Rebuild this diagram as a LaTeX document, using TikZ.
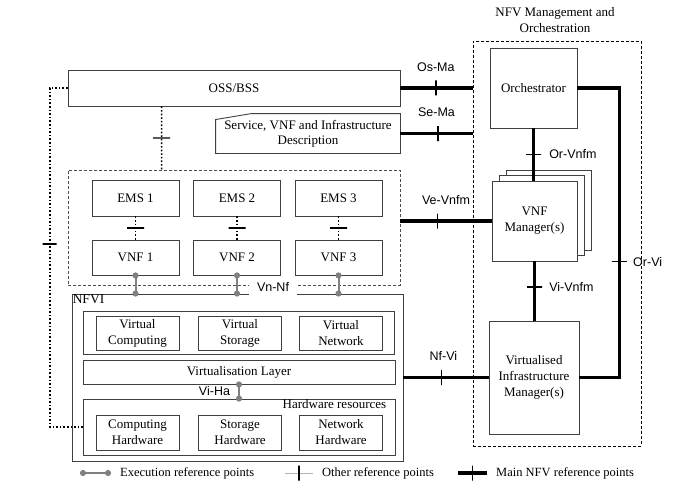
\documentclass[tikz,border=0pt]{standalone}
\usepackage{fontspec}
\setmainfont{Liberation Serif}
\newfontfamily\refsans{Liberation Sans}
\usetikzlibrary{arrows.meta,calc}

\tikzset{
  box/.style={draw=black!75, line width=0.9pt, align=center, inner sep=1pt, font=\fontsize{13}{16}\selectfont},
  group/.style={draw=black!75, line width=0.9pt, inner sep=0pt},
  dashgroup/.style={draw=black!70, line width=0.8pt, dash pattern=on 3pt off 2pt, inner sep=0pt},
  mainref/.style={line width=3.5pt},
  otherref/.style={line width=1.6pt, dotted},
  execref/.style={draw=black!50, line width=2pt, arrows={Circle[length=6pt]-Circle[length=6pt]}, shorten <=-3pt, shorten >=-3pt},
  tick/.style={sloped, draw=black, solid, line width=1.4pt, minimum width=0pt, minimum height=15pt, inner sep=0pt, outer sep=0pt},
  reflabel/.style={font=\refsans\fontsize{12.5}{14}\selectfont, inner sep=0pt},
  legendtext/.style={anchor=west, inner sep=0pt, font=\fontsize{12.5}{14}\selectfont},
}

\begin{document}
\begin{tikzpicture}[x=1pt, y=-1pt]
  \useasboundingbox (0,0) rectangle (683,495);
  % OSS/BSS and description:
  \node[box, minimum width=332pt, minimum height=36pt] (oss) at (234,88) {OSS/BSS};
  \node[box, draw=none, minimum width=184pt, minimum height=39pt, font=\fontsize{13}{15}\selectfont] (desc) at (308,133.5) {Service, VNF and Infrastructure\\Description};
  \draw[group] (desc.south west) -- ([yshift=-6pt]desc.north west) -- ([xshift=36pt]desc.north west) -- (desc.north east) -- (desc.south east) -- cycle;

  % VNF domain:
  \node[dashgroup, minimum width=332pt, minimum height=115pt] (vnfdom) at (234,227.5) {};
  \foreach \i/\x in {1/135.5, 2/237, 3/338.5} {
    \node[box, minimum width=87pt, minimum height=36pt] (ems\i) at (\x,198) {EMS \i};
    \node[box, minimum width=87pt, minimum height=35pt] (vnf\i) at (\x,257.5) {VNF \i};
    \draw[otherref] (ems\i.south) -- (vnf\i.north) node[midway, tick, minimum height=17pt] {};
  }

  % NFVI:
  \node[group, minimum width=331pt, minimum height=167pt] (nfvi) at (237.5,377.5) {};
  \node[anchor=north west, inner sep=1pt, font=\fontsize{13.5}{16}\selectfont] (nfvilabel) at (nfvi.north west) {NFVI};
  \node[group, minimum width=311pt, minimum height=43pt] (virt) at (238.5,332.5) {};
  \node[box, minimum width=312pt, minimum height=24pt] (vlayer) at (239,372) {Virtualisation Layer};
  \node[group, minimum width=312pt, minimum height=56pt] (hw) at (239,427) {};
  \node[anchor=north east, inner sep=1pt, font=\fontsize{13}{16}\selectfont] (hwlabel) at ([xshift=-8pt]hw.north east) {Hardware resources};
  \foreach \i/\x/\a in {1/137.5/Computing, 2/240/Storage, 3/341/Network} {
    \node[box, minimum width=83pt, minimum height=34pt] (virt\i) at (\x,333) {Virtual\\\a};
    \node[box, minimum width=83pt, minimum height=35pt] (hw\i) at (\x,432.5) {\a\\Hardware};
  }

  % Execution reference points:
  \foreach \i in {1,2,3} \draw[execref] (vnf\i.south) -- (vnf\i.south |- nfvi.north);
  \node[reflabel, fill=white, inner xsep=8pt, inner ysep=3pt] (vnnf) at (273,287) {Vn-Nf};
  \draw[execref] (vlayer.south) -- (hw.north) node[midway, left=8pt, reflabel] {Vi-Ha};

  % NFV management and orchestration:
  \node[dashgroup, draw=black, minimum width=168pt, minimum height=405pt] (mano) at (557,243.5) {};
  \node[align=center, font=\fontsize{13}{16}\selectfont] (manolabel) at (555,20) {NFV Management and\\Orchestration};
  \node[box, minimum width=87pt, minimum height=80pt] (orch) at (533.5,88) {Orchestrator};
  \foreach \k in {2,1} \node[box, fill=white, minimum width=85pt, minimum height=80pt] (vnfmback\k) at ($(534.5,221)+(7*\k,-5.5*\k)$) {};
  \node[box, fill=white, minimum width=85pt, minimum height=80pt] (vnfm) at (534.5,221) {VNF\\Manager(s)};
  \node[box, minimum width=90pt, minimum height=113pt] (vim) at (534,377.5) {Virtualised\\Infrastructure\\Manager(s)};

  % Main NFV reference points:
  \draw[mainref] (oss.east) -- (oss.east -| mano.west) node[pos=0.49, tick] {} node[pos=0.49, above=15pt, reflabel] {Os-Ma};
  \draw[mainref] (desc.east) -- (desc.east -| mano.west) node[pos=0.52, tick] {} node[pos=0.5, above=15pt, reflabel] {Se-Ma};
  \draw[mainref] (vnfm.west -| vnfdom.east) -- (vnfm.west) node[pos=0.41, tick] {} node[pos=0.5, above=15pt, reflabel] {Ve-Vnfm};
  \draw[mainref] (vim.west -| nfvi.east) -- (vim.west) node[pos=0.45, tick] {} node[pos=0.47, above=15pt, reflabel] {Nf-Vi};
  \draw[mainref] (orch.south) -- (orch.south |- vnfm.north) node[midway, tick] {} node[midway, right=14pt, reflabel] {Or-Vnfm};
  \draw[mainref] (vnfm.south) -- (vnfm.south |- vim.north) node[pos=0.43, tick] {} node[pos=0.43, right=13pt, reflabel] {Vi-Vnfm};
  \draw[mainref] (orch.east) -- ++(42,0) |- node[pos=0.3, tick] {} node[pos=0.3, right=12pt, reflabel] {Or-Vi} (vim.east);

  % Other reference points:
  \draw[otherref] ([xshift=94pt]oss.south west) -- ([xshift=94pt]vnfdom.north west) node[midway, tick, minimum height=17pt] {};
  \draw[otherref, line width=2pt] (oss.west) -- ++(-18,0) |- node[pos=0.23, tick, minimum height=14pt] {} (hw.west);

  % Legend:
  \coordinate (execa) at (83,473);
  \coordinate (execb) at (108,473);
  \draw[execref] (execa) -- (execb);
  \node[legendtext] (execlabel) at (120,473) {Execution reference points};
  \coordinate (othera) at (285,473);
  \coordinate (otherb) at (313,473);
  \draw[black!30, line width=0.8pt] (othera) -- (otherb) node[midway, tick] {};
  \node[legendtext] (otherlabel) at (322,473) {Other reference points};
  \coordinate (maina) at (458,473);
  \coordinate (mainb) at (487,473);
  \draw[mainref] (maina) -- (mainb) node[midway, tick] {};
  \node[legendtext] (mainlabel) at (496,473) {Main NFV reference points};
\end{tikzpicture}
\end{document}
